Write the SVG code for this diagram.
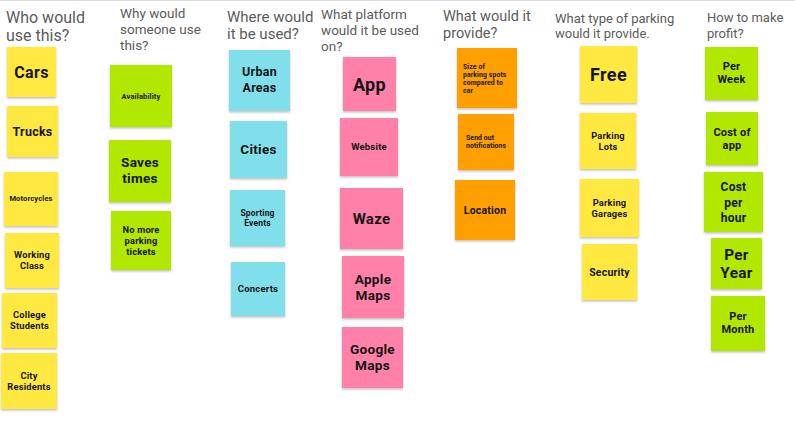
<svg xmlns="http://www.w3.org/2000/svg" width="795" height="423" viewBox="0 0 795 423">
<defs>
<filter id="sh" x="-10%" y="-10%" width="120%" height="125%">
<feDropShadow dx="0" dy="1.5" stdDeviation="1" flood-color="#000" flood-opacity="0.25"/>
</filter>
</defs>
<style>
.h{font-family:Roboto,"Liberation Sans",sans-serif;fill:#5b5b5b;}
.n{filter:url(#sh);}
.y{fill:#FFE93F;}
.g{fill:#B2E702;}
.c{fill:#80DFEA;}
.p{fill:#FF80A9;}
.o{fill:#FF9F05;}
.t{font-family:Roboto,"Liberation Sans",sans-serif;font-weight:700;fill:#151515;text-anchor:middle;letter-spacing:0.02em;}
.l{font-family:Roboto,"Liberation Sans",sans-serif;font-weight:700;fill:#151515;font-size:6.8px;letter-spacing:0.02em;}
</style>
<rect x="0" y="0" width="795" height="423" fill="#fff"/>
<line x1="0" y1="0.5" x2="795" y2="0.5" stroke="#dcdcdc" stroke-width="1"/>

<g id="headings">
<text class="h" font-size="16"><tspan x="6" y="22.5">Who would</tspan><tspan x="6" y="40.5">use this?</tspan></text>
<text class="h" font-size="13.5"><tspan x="120" y="18">Why would</tspan><tspan x="120" y="34">someone use</tspan><tspan x="120" y="50">this?</tspan></text>
<text class="h" font-size="15"><tspan x="227" y="22">Where would</tspan><tspan x="227" y="39">it be used?</tspan></text>
<text class="h" font-size="13.5"><tspan x="321" y="18.5">What platform</tspan><tspan x="321" y="34.5">would it be used</tspan><tspan x="321" y="50.5">on?</tspan></text>
<text class="h" font-size="14.5"><tspan x="443" y="21">What would it</tspan><tspan x="443" y="38">provide?</tspan></text>
<text class="h" font-size="13"><tspan x="555" y="23">What type of parking</tspan><tspan x="555" y="37.5">would it provide.</tspan></text>
<text class="h" font-size="13"><tspan x="707" y="22">How to make</tspan><tspan x="707" y="38">profit?</tspan></text>
</g>

<g id="cars"><rect class="n y" x="7" y="47" width="49" height="50"/><text class="t" font-size="16" x="31.5" y="77.5">Cars</text></g>
<g id="trucks"><rect class="n y" x="7" y="106" width="51" height="51"/><text class="t" font-size="12.5" x="32.5" y="135.5">Trucks</text></g>
<g id="motorcycles"><rect class="n y" x="4" y="172" width="54" height="54"/><text class="t" font-size="7.5" x="31" y="200.6">Motorcycles</text></g>
<g id="working-class"><rect class="n y" x="5" y="233" width="54" height="55"/><text class="t" font-size="9.3"><tspan x="32" y="258">Working</tspan><tspan x="32" y="269">Class</tspan></text></g>
<g id="college-students"><rect class="n y" x="2" y="293" width="55" height="55"/><text class="t" font-size="9.3"><tspan x="29.5" y="318">College</tspan><tspan x="29.5" y="329">Students</tspan></text></g>
<g id="city-residents"><rect class="n y" x="1" y="353" width="56" height="56"/><text class="t" font-size="9.3"><tspan x="29" y="379">City</tspan><tspan x="29" y="390">Residents</tspan></text></g>

<g id="availability"><rect class="n g" x="110" y="65" width="62" height="62"/><text class="t" font-size="7.5" x="141" y="98.6">Availability</text></g>
<g id="saves-times"><rect class="n g" x="109" y="140" width="62" height="62"/><text class="t" font-size="13.6"><tspan x="140" y="167.3">Saves</tspan><tspan x="140" y="183.3">times</tspan></text></g>
<g id="no-more-tickets"><rect class="n g" x="111" y="211" width="60" height="59"/><text class="t" font-size="9.3"><tspan x="141" y="233.3">No more</tspan><tspan x="141" y="244.3">parking</tspan><tspan x="141" y="255.3">tickets</tspan></text></g>

<g id="urban-areas"><rect class="n c" x="229" y="50" width="61" height="61"/><text class="t" font-size="12.5"><tspan x="259.5" y="76.4">Urban</tspan><tspan x="259.5" y="92.4">Areas</tspan></text></g>
<g id="cities"><rect class="n c" x="230" y="121" width="57" height="57"/><text class="t" font-size="13.5" x="258.5" y="153.7">Cities</text></g>
<g id="sporting-events"><rect class="n c" x="230" y="190" width="55" height="56"/><text class="t" font-size="8.5"><tspan x="257.5" y="216">Sporting</tspan><tspan x="257.5" y="226">Events</tspan></text></g>
<g id="concerts"><rect class="n c" x="231" y="262" width="54" height="54"/><text class="t" font-size="9.5" x="258" y="292.3">Concerts</text></g>

<g id="app"><rect class="n p" x="343" y="57" width="53" height="54"/><text class="t" font-size="18" x="369.5" y="91.3">App</text></g>
<g id="website"><rect class="n p" x="340" y="118" width="58" height="58"/><text class="t" font-size="9.5" x="369" y="150.3">Website</text></g>
<g id="waze"><rect class="n p" x="340" y="188" width="63" height="61"/><text class="t" font-size="15" x="371.5" y="224.2">Waze</text></g>
<g id="apple-maps"><rect class="n p" x="342" y="256" width="62" height="62"/><text class="t" font-size="13.6"><tspan x="373" y="283.8">Apple</tspan><tspan x="373" y="299.8">Maps</tspan></text></g>
<g id="google-maps"><rect class="n p" x="342" y="327" width="61" height="61"/><text class="t" font-size="13.6"><tspan x="372.5" y="353.8">Google</tspan><tspan x="372.5" y="369.8">Maps</tspan></text></g>

<g id="size-of-spots"><rect class="n o" x="457" y="48" width="60" height="60"/><text class="l"><tspan x="463" y="69">Size of</tspan><tspan x="463" y="77">parking spots</tspan><tspan x="463" y="85">compared to</tspan><tspan x="463" y="93">car</tspan></text></g>
<g id="notifications"><rect class="n o" x="458" y="114" width="56" height="56"/><text class="l"><tspan x="466" y="139.5">Send out</tspan><tspan x="466" y="147.5">notifications</tspan></text></g>
<g id="location"><rect class="n o" x="455" y="180" width="60" height="60"/><text class="t" font-size="10.5" x="485" y="213.7">Location</text></g>

<g id="free"><rect class="n y" x="580" y="46" width="57" height="57"/><text class="t" font-size="18" x="608.5" y="81.3">Free</text></g>
<g id="parking-lots"><rect class="n y" x="580" y="113" width="56" height="56"/><text class="t" font-size="9.3"><tspan x="608" y="139">Parking</tspan><tspan x="608" y="150">Lots</tspan></text></g>
<g id="parking-garages"><rect class="n y" x="580" y="179" width="59" height="58"/><text class="t" font-size="9.3"><tspan x="609.5" y="206">Parking</tspan><tspan x="609.5" y="217">Garages</tspan></text></g>
<g id="security"><rect class="n y" x="582" y="244" width="55" height="56"/><text class="t" font-size="10.5" x="609.5" y="275.7">Security</text></g>

<g id="per-week"><rect class="n g" x="705" y="47" width="53" height="53"/><text class="t" font-size="11"><tspan x="731.5" y="70.3">Per</tspan><tspan x="731.5" y="83.3">Week</tspan></text></g>
<g id="cost-of-app"><rect class="n g" x="706" y="112" width="52" height="53"/><text class="t" font-size="11"><tspan x="732" y="135.8">Cost of</tspan><tspan x="732" y="148.8">app</tspan></text></g>
<g id="cost-per-hour"><rect class="n g" x="704" y="172" width="59" height="60"/><text class="t" font-size="12"><tspan x="733.5" y="191.2">Cost</tspan><tspan x="733.5" y="206.7">per</tspan><tspan x="733.5" y="222.2">hour</tspan></text></g>
<g id="per-year"><rect class="n g" x="711" y="238" width="51" height="51"/><text class="t" font-size="15.3"><tspan x="736.5" y="260.4">Per</tspan><tspan x="736.5" y="278.4">Year</tspan></text></g>
<g id="per-month"><rect class="n g" x="711" y="296" width="54" height="55"/><text class="t" font-size="11"><tspan x="738" y="319.8">Per</tspan><tspan x="738" y="332.8">Month</tspan></text></g>

<g id="connectors"></g>
</svg>
